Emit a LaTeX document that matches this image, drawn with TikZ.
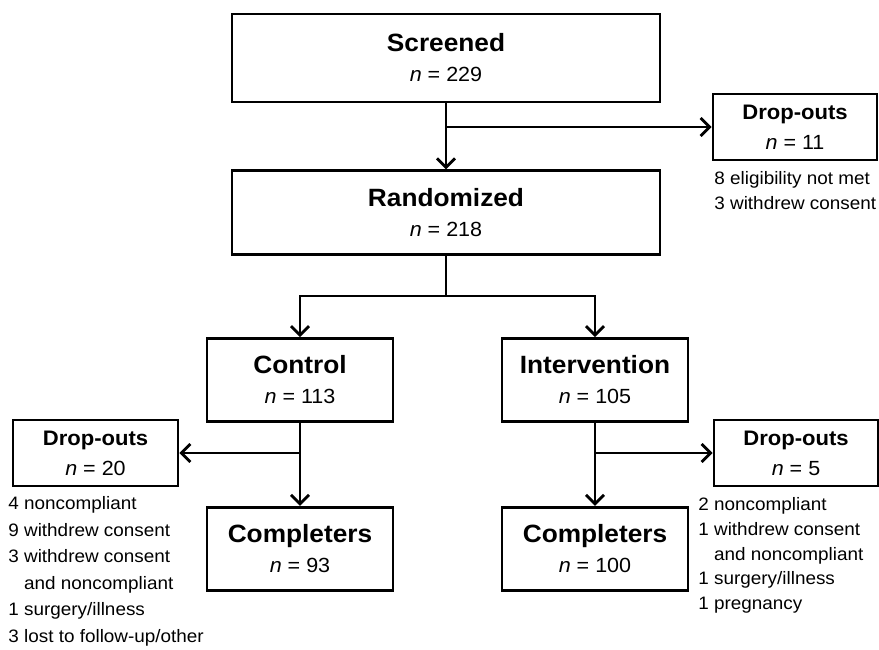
\documentclass[tikz,border=0pt]{standalone}
\usepackage{fontspec}
\setmainfont{Liberation Sans}[FakeStretch=1.05]
\usetikzlibrary{arrows.meta, positioning}

\newcommand{\boxtitle}[1]{{\fontsize{25}{30}\selectfont\bfseries #1}}
\newcommand{\droptitle}[1]{{\fontsize{21}{30}\selectfont\bfseries #1}}

\begin{document}
\begin{tikzpicture}[
    x=1pt, y=1pt,
    >={Straight Barb[length=9pt, width=18pt]},
    line width=2.8pt,
    every node/.style={align=center},
    box/.style={rectangle, draw, line width=2.8pt, inner sep=0pt,
                font=\fontsize{20.5}{30}\selectfont},
    bigbox/.style={box, minimum width=428pt},
    armbox/.style={box, minimum width=186pt, minimum height=83pt},
    dropbox/.style={box, minimum width=164pt, minimum height=66pt},
    reasons/.style={align=left, inner sep=0pt, anchor=north west}
]
\useasboundingbox (0,0) rectangle (879,-649);

% ----------------------
% Nodes
% ----------------------

% Screening and randomization
\node[bigbox, minimum height=88pt] (screened) at (446,-58) {\boxtitle{Screened}\\ \textit{n} = 229};
\node[bigbox, minimum height=84pt, below=66pt of screened] (randomized) {\boxtitle{Randomized}\\ \textit{n} = 218};

% Drop-outs before randomization
\node[dropbox] (dropT) at (795,-127) {\droptitle{Drop-outs}\\ \textit{n} = 11};
\node[reasons, font=\fontsize{18}{25}\selectfont] (whyT) at (713,-170)
    {8 eligibility not met\\ 3 withdrew consent};

% Study arms
\node[armbox] (control) at (300,-380) {\boxtitle{Control}\\ \textit{n} = 113};
\node[armbox] (intervention) at (595,-380) {\boxtitle{Intervention}\\ \textit{n} = 105};

% Completers
\node[armbox, below=83pt of control] (compL) {\boxtitle{Completers}\\ \textit{n} = 93};
\node[armbox, below=83pt of intervention] (compR) {\boxtitle{Completers}\\ \textit{n} = 100};

% Drop-outs per arm
\node[dropbox, minimum width=165pt] (dropL) at (95.5,-453) {\droptitle{Drop-outs}\\ \textit{n} = 20};
\node[dropbox] (dropR) at (796,-453) {\droptitle{Drop-outs}\\ \textit{n} = 5};

\node[reasons, font=\fontsize{18}{26.6}\selectfont] (whyL) at (7,-495)
    {4 noncompliant\\ 9 withdrew consent\\ 3 withdrew consent\\ \hphantom{3\ }and noncompliant\\
     1 surgery/illness\\ 3 lost to follow-up/other};
\node[reasons, font=\fontsize{18}{24.8}\selectfont] (whyR) at (697,-496)
    {2 noncompliant\\ 1 withdrew consent\\ \hphantom{1\ }and noncompliant\\ 1 surgery/illness\\ 1 pregnancy};

% ----------------------
% Arrows
% ----------------------

\coordinate (leave) at (446,-127);
\coordinate (split) at (446,-296);
\coordinate (leaveL) at (300,-453);
\coordinate (leaveR) at (595,-453);

% Screened to randomized, with drop-outs
\draw[->] (screened) -- (randomized);
\draw[->] (leave) -- (dropT);

% Randomized into the two arms
\draw (randomized) -- (split);
\draw[->] (split) -| (control);
\draw[->] (split) -| (intervention);

% Arms to completers, with drop-outs
\draw[->] (control) -- (compL);
\draw[->] (leaveL) -- (dropL);
\draw[->] (intervention) -- (compR);
\draw[->] (leaveR) -- (dropR);

\end{tikzpicture}
\end{document}
